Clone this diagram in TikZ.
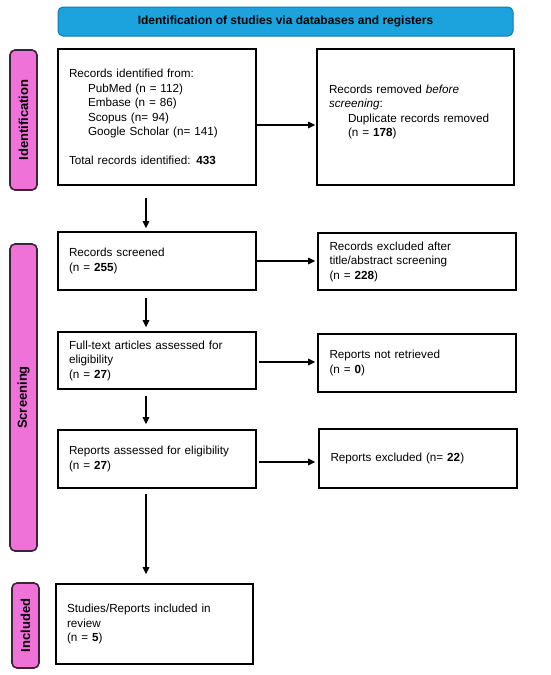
\documentclass[tikz,border=0pt]{standalone}
\usepackage{fontspec}
\setmainfont{Liberation Sans}
\usetikzlibrary{arrows.meta}
\definecolor{titleblue}{HTML}{1CA3DE}
\definecolor{titleedge}{HTML}{1479A8}
\definecolor{sidepink}{HTML}{EF72D8}
\definecolor{sideedge}{HTML}{3B2433}
\tikzset{
  box/.style={draw=black, line width=1.6pt, fill=white, text width=176pt, inner xsep=11pt, inner ysep=2pt, align=left, minimum width=198pt, font=\fontsize{11.7}{14.5}\selectfont},
  sidelab/.style={draw=sideedge, line width=1.6pt, fill=sidepink, rounded corners=5pt, rotate=90, inner sep=0pt, minimum height=27pt, font=\fontsize{13}{14}\selectfont\bfseries},
  titlebar/.style={draw=titleedge, line width=1pt, fill=titleblue, rounded corners=5pt, minimum width=455pt, minimum height=29pt, inner sep=0pt, font=\fontsize{12}{14}\selectfont\bfseries},
  arr/.style={line width=1.3pt, -{Triangle[length=7pt,width=6.5pt]}},
}
\begin{document}
\begin{tikzpicture}[x=1pt,y=-1pt]
\useasboundingbox[fill=white] (0,0) rectangle (550,675);
\node[titlebar] (title) at (285.5,21.5) {Identification of studies via databases and registers};
\node[sidelab, minimum width=140pt] (idlab) at (23.5,120) {Identification};
\node[sidelab, minimum width=307pt] (scrlab) at (23.5,397.5) {Screening};
\node[sidelab, minimum width=85pt] (inclab) at (25.5,625.5) {Included};

\node[box, minimum height=136pt] (b1) at (157,117) {Records identified from:\\
\hspace*{19pt}PubMed (n = 112)\\
\hspace*{19pt}Embase (n = 86)\\
\hspace*{19pt}Scopus (n= 94)\\
\hspace*{19pt}Google Scholar (n= 141)\\[14.5pt]
Total records identified: \textbf{433}};
\node[box, minimum width=197pt, text width=173pt, inner xsep=12pt, minimum height=136pt] (r1) at (415.5,117) {Records removed \textit{before}\\
\textit{screening}:\\
\hspace*{19pt}Duplicate records removed\\
\hspace*{19pt}(n = \textbf{178})\\[-2pt]\mbox{}};

\node[box, minimum height=58pt] (b2) at (157,261) {Records screened\\(n = \textbf{255})};
\node[box, text width=175pt, inner xsep=11.5pt, minimum height=57pt] (r2) at (417,261.5) {Records excluded after\\title/abstract screening\\(n = \textbf{228})};

\node[box, minimum height=57pt] (b3) at (157,360.5) {Full-text articles assessed for\\eligibility\\(n = \textbf{27})};
\node[box, text width=175pt, inner xsep=11.5pt, minimum height=58pt] (r3) at (417,363) {Reports not retrieved\\(n = \textbf{0})};

\node[box, minimum height=58pt] (b4) at (157,459) {Reports assessed for eligibility\\(n = \textbf{27})};
\node[box, text width=175pt, inner xsep=11.5pt, minimum height=59pt] (r4) at (418,458.5) {Reports excluded (n= \textbf{22})};

\node[box, minimum width=197pt, text width=175pt, minimum height=80pt] (b5) at (154.5,624) {Studies/Reports included in\\review\\(n = \textbf{5})};

\coordinate (col) at (146,0);
\draw[arr, shorten <=12pt, shorten >=3pt] (b1.south -| col) -- (b2.north -| col);
\draw[arr, shorten <=7pt, shorten >=4pt] (b2.south -| col) -- (b3.north -| col);
\draw[arr, shorten <=6pt, shorten >=5pt] (b3.south -| col) -- (b4.north -| col);
\draw[arr, shorten <=5pt, shorten >=9pt] (b4.south -| col) -- (b5.north -| col);

\draw[arr, shorten >=1pt] ([yshift=-8pt]b1.east) -- ([yshift=-8pt]b1.east -| r1.west);
\draw[arr, shorten >=2pt] (b2.east) -- (b2.east -| r2.west);
\draw[arr, shorten <=2pt, shorten >=2pt] ([yshift=-1.5pt]b3.east) -- ([yshift=-1.5pt]b3.east -| r3.west);
\draw[arr, shorten <=2pt, shorten >=3pt] ([yshift=-3pt]b4.east) -- ([yshift=-3pt]b4.east -| r4.west);
\end{tikzpicture}
\end{document}
